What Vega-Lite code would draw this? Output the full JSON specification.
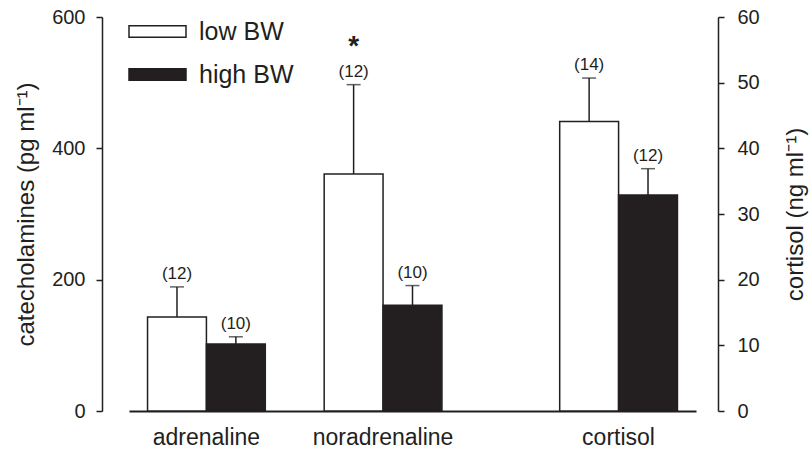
{
  "$schema": "https://vega.github.io/schema/vega-lite/v6.json",
  "width": 616,
  "height": 394,
  "autosize": {"type": "none"},
  "padding": {"left": 102, "top": 17, "right": 91, "bottom": 43},
  "background": "white",
  "config": {
    "font": "Liberation Sans",
    "view": {"stroke": null},
    "axis": {
      "domainColor": "#231f20", "tickColor": "#231f20", "labelColor": "#231f20", "titleColor": "#231f20",
      "domainWidth": 1.5, "tickWidth": 1.5, "grid": false,
      "labelFont": "Liberation Sans", "titleFont": "Liberation Sans", "titleFontWeight": "normal"
    },
    "legend": {"labelFont": "Liberation Sans"}
  },
  "data": {
    "values": [
      {"group": "adrenaline", "bw": "low BW", "bar": "adrenaline low", "mean": 143, "upper": 189, "n": "(12)", "sig": ""},
      {"group": "adrenaline", "bw": "high BW", "bar": "adrenaline high", "mean": 102, "upper": 113, "n": "(10)", "sig": ""},
      {"group": "noradrenaline", "bw": "low BW", "bar": "noradrenaline low", "mean": 361, "upper": 497, "n": "(12)", "sig": "*"},
      {"group": "noradrenaline", "bw": "high BW", "bar": "noradrenaline high", "mean": 161, "upper": 191, "n": "(10)", "sig": ""},
      {"group": "cortisol", "bw": "low BW", "bar": "cortisol low", "mean": 44.1, "upper": 50.7, "n": "(14)", "sig": ""},
      {"group": "cortisol", "bw": "high BW", "bar": "cortisol high", "mean": 32.9, "upper": 36.9, "n": "(12)", "sig": ""}
    ]
  },
  "encoding": {
    "x": {
      "field": "bar", "type": "nominal",
      "scale": {
        "type": "band",
        "domain": ["adrenaline low", "adrenaline high", "g1", "noradrenaline low", "noradrenaline high", "g2", "g3", "cortisol low", "cortisol high"],
        "range": [27, 594], "paddingInner": 0, "paddingOuter": 0.315
      },
      "axis": {
        "title": null, "ticks": false, "tickSize": 0, "labelAngle": 0, "labelOverlap": false, "labelOffset": -29.5,
        "labelExpr": "datum.value == 'adrenaline high' ? 'adrenaline' : datum.value == 'noradrenaline high' ? 'noradrenaline' : datum.value == 'cortisol high' ? 'cortisol' : ''",
        "labelFontSize": 23, "labelPadding": 15, "labelBaseline": "top", "domainWidth": 2
      }
    }
  },
  "layer": [
    {
      "transform": [{"filter": "datum.group != 'cortisol'"}],
      "encoding": {
        "y": {
          "field": "mean", "type": "quantitative", "title": "catecholamines (pg ml⁻¹)",
          "scale": {"domain": [0, 600], "nice": false},
          "axis": {"orient": "left", "values": [0, 200, 400, 600], "tickSize": 6, "labelFontSize": 20, "titleFontSize": 24, "labelPadding": 11,
                   "titleX": -76, "titleY": 197, "titleAngle": 270, "titleAlign": "center", "titleBaseline": "middle"}
        }
      },
      "layer": [
        {
          "mark": {"type": "bar", "stroke": "#231f20", "strokeWidth": 1.5},
          "encoding": {
            "fill": {
              "field": "bw", "type": "nominal",
              "scale": {"domain": ["low BW", "high BW"], "range": ["#ffffff", "#231f20"]},
              "legend": {
                "title": null, "orient": "none", "legendX": 26, "legendY": -15,
                "symbolType": "M-1,-0.2H1V0.2H-1Z", "symbolSize": 3249,
                "symbolStrokeColor": "#231f20", "symbolStrokeWidth": 1.5,
                "labelFontSize": 25, "labelColor": "#231f20", "labelOffset": 12, "rowPadding": -13, "padding": 0
              }
            }
          }
        },
        {
          "mark": {"type": "rule", "color": "#231f20", "strokeWidth": 1.5},
          "encoding": {"y2": {"field": "upper"}}
        },
        {
          "mark": {"type": "tick", "orient": "horizontal", "size": 14, "thickness": 1.5, "color": "#231f20"},
          "encoding": {"y": {"field": "upper", "type": "quantitative", "title": "catecholamines (pg ml⁻¹)"}}
        },
        {
          "mark": {"type": "text", "dy": -8, "fontSize": 17, "baseline": "alphabetic", "color": "#231f20"},
          "encoding": {"y": {"field": "upper", "type": "quantitative", "title": "catecholamines (pg ml⁻¹)"}, "text": {"field": "n"}}
        },
        {
          "transform": [{"filter": "datum.sig == '*'"}],
          "mark": {"type": "text", "dy": -30, "fontSize": 28, "fontWeight": "bold", "baseline": "alphabetic", "color": "#231f20"},
          "encoding": {"y": {"field": "upper", "type": "quantitative", "title": "catecholamines (pg ml⁻¹)"}, "text": {"field": "sig"}}
        }
      ]
    },
    {
      "transform": [{"filter": "datum.group == 'cortisol'"}],
      "encoding": {
        "y": {
          "field": "mean", "type": "quantitative", "title": "cortisol (ng ml⁻¹)",
          "scale": {"domain": [0, 60], "nice": false},
          "axis": {"orient": "right", "values": [0, 10, 20, 30, 40, 50, 60], "tickSize": 6, "labelFontSize": 20, "titleFontSize": 24, "labelPadding": 13,
                   "titleX": 77, "titleY": 197, "titleAngle": 270, "titleAlign": "center", "titleBaseline": "middle"}
        }
      },
      "layer": [
        {
          "mark": {"type": "bar", "stroke": "#231f20", "strokeWidth": 1.5},
          "encoding": {"fill": {"field": "bw", "type": "nominal"}}
        },
        {
          "mark": {"type": "rule", "color": "#231f20", "strokeWidth": 1.5},
          "encoding": {"y2": {"field": "upper"}}
        },
        {
          "mark": {"type": "tick", "orient": "horizontal", "size": 14, "thickness": 1.5, "color": "#231f20"},
          "encoding": {"y": {"field": "upper", "type": "quantitative", "title": "cortisol (ng ml⁻¹)"}}
        },
        {
          "mark": {"type": "text", "dy": -8, "fontSize": 17, "baseline": "alphabetic", "color": "#231f20"},
          "encoding": {"y": {"field": "upper", "type": "quantitative", "title": "cortisol (ng ml⁻¹)"}, "text": {"field": "n"}}
        }
      ]
    }
  ],
  "resolve": {"scale": {"y": "independent"}}
}
